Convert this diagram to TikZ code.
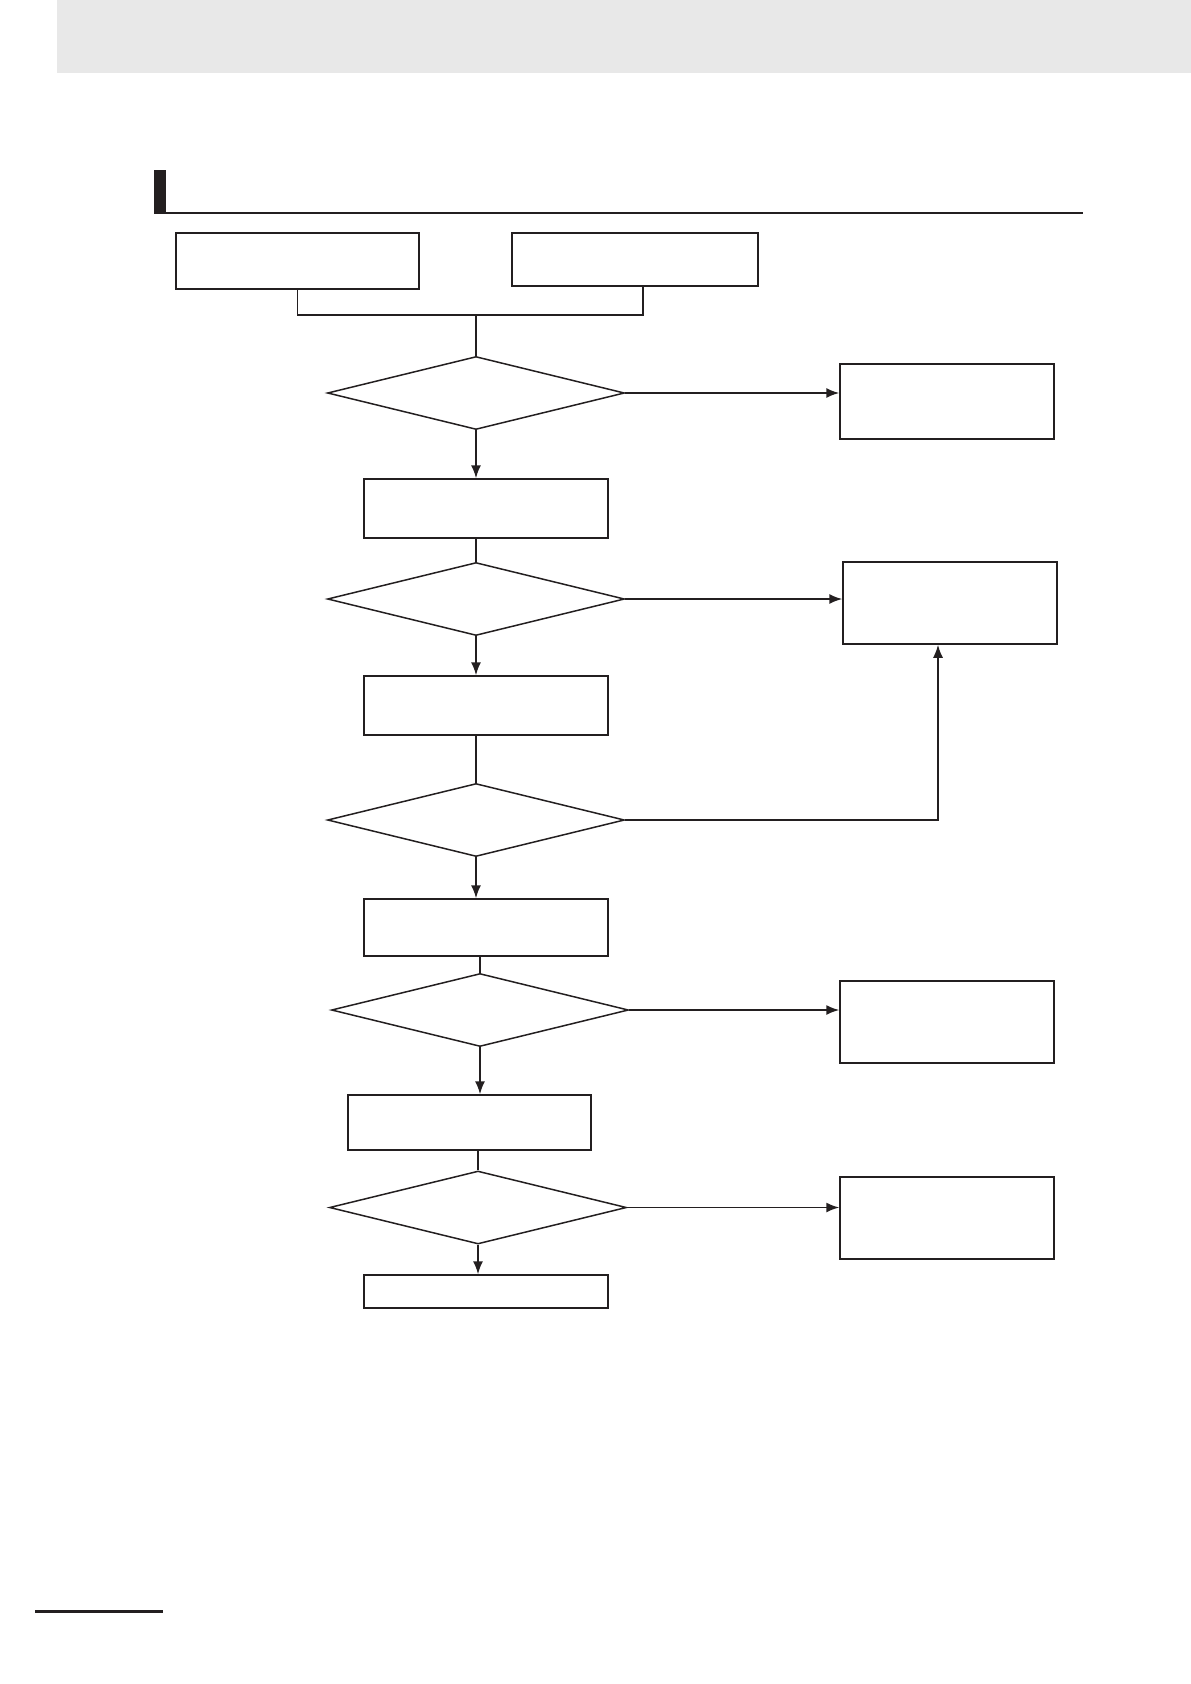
\documentclass[tikz,border=0pt]{standalone}
\usepackage{tikz}
\usetikzlibrary{shapes.geometric,positioning,calc,arrows.meta}
\definecolor{ink}{HTML}{231F20}
\definecolor{band}{HTML}{E8E8E8}

\begin{document}
\begin{tikzpicture}[x=1pt, y=-1pt,
    stepbox/.style={draw=ink, line width=1.5pt, rectangle, inner sep=0pt},
    test/.style={draw=ink, line width=1.5pt, diamond, inner sep=0pt, minimum width=297pt, minimum height=73pt},
    flow/.style={draw=ink, line width=1.6pt},
    go/.style={flow, -{Latex[length=13pt, width=10pt]}}]
  \useasboundingbox (0,0) rectangle (1191,1684);

  % Page header and section rule
  \fill[band] (57,0) rectangle (1191,73);
  \fill[ink] (154,170) rectangle (166,213);
  \draw[ink, line width=2.5pt] (154,213) -- (1083,213);
  \draw[ink, line width=3pt] (35,1611) -- (163,1611);

  % Start boxes
  \node[stepbox, minimum width=243pt, minimum height=56pt] (srcA) at (297.5,261) {};
  \node[stepbox, minimum width=246pt, minimum height=53pt] (srcB) at (635,259.5) {};

  % Main column
  \node[test] (chk1) at (476,393) {};
  \node[stepbox, minimum width=244pt, minimum height=59pt] (act1) at (486,508.5) {};
  \node[test] (chk2) at (476,599) {};
  \node[stepbox, minimum width=244pt, minimum height=59pt] (act2) at (486,705.5) {};
  \node[test] (chk3) at (476,820) {};
  \node[stepbox, minimum width=244pt, minimum height=57pt] (act3) at (486,927.5) {};
  \node[test] (chk4) at (480,1010) {};
  \node[stepbox, minimum width=243pt, minimum height=55pt] (act4) at (469.5,1122.5) {};
  \node[test] (chk5) at (478,1207.5) {};
  \node[stepbox, minimum width=244pt, minimum height=33pt] (done) at (486,1291.5) {};

  % Side boxes
  \node[stepbox, minimum width=214pt, minimum height=75pt] (err1) at (947,401.5) {};
  \node[stepbox, minimum width=214pt, minimum height=82pt] (err2) at (950,603) {};
  \node[stepbox, minimum width=214pt, minimum height=82pt] (err3) at (947,1022) {};
  \node[stepbox, minimum width=214pt, minimum height=82pt] (err4) at (947,1218) {};

  % Merge of the two start boxes
  \coordinate (mrg) at (476,315);
  \coordinate (tapB) at (643,0);
  \draw[flow] (srcA.south) -- (srcA.south |- mrg) -- (tapB |- mrg) -- (tapB |- srcB.south);
  \draw[flow] (mrg) -- (chk1.north);

  % Down the column
  \draw[go] (chk1.south) -- (chk1.south |- act1.north);
  \draw[flow] (chk2.north |- act1.south) -- (chk2.north);
  \draw[go] (chk2.south) -- (chk2.south |- act2.north);
  \draw[flow] (chk3.north |- act2.south) -- (chk3.north);
  \draw[go] (chk3.south) -- (chk3.south |- act3.north);
  \draw[flow] (chk4.north |- act3.south) -- (chk4.north);
  \draw[go] (chk4.south) -- (chk4.south |- act4.north);
  \draw[flow] (chk5.north |- act4.south) -- (chk5.north);
  \draw[go] (chk5.south) -- (chk5.south |- done.north);

  % Branches to the right
  \draw[go] (chk1.east) -- (chk1.east -| err1.west);
  \draw[go] (chk2.east) -- (chk2.east -| err2.west);
  \coordinate (ret2) at ([xshift=-12pt]err2.south);
  \draw[go] (chk3.east) -| (ret2);
  \draw[go] (chk4.east) -- (chk4.east -| err3.west);
  \draw[go] (chk5.east) -- (chk5.east -| err4.west);
\end{tikzpicture}
\end{document}
